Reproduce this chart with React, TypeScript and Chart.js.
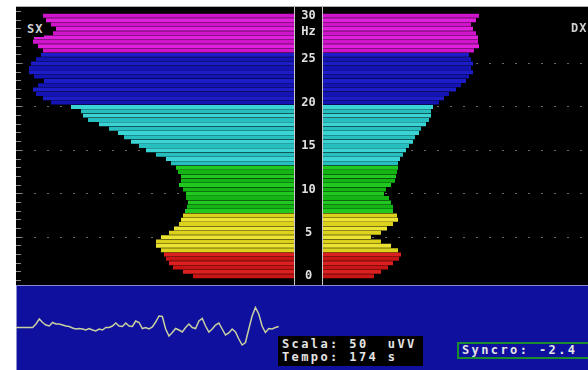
import React, { useEffect, useRef } from 'react';
import { Chart, registerables } from 'chart.js';

Chart.register(...registerables);

// Frequency bins (Hz), bottom to top
const hzBins = [
  0, 0.5, 1, 1.5, 2, 2.5, 3, 3.5, 4, 4.5, 5, 5.5, 6, 6.5, 7, 7.5, 8, 8.5, 9, 9.5,
  10, 10.5, 11, 11.5, 12, 12.5, 13, 13.5, 14, 14.5, 15, 15.5, 16, 16.5, 17, 17.5, 18, 18.5, 19, 19.5,
  20, 20.5, 21, 21.5, 22, 22.5, 23, 23.5, 24, 24.5, 25, 25.5, 26, 26.5, 27, 27.5, 28, 28.5, 29, 29.5, 30,
];

// Left hemisphere (SX) spectral power per bin
const powerSX = [
  101, 111, 121, 125, 128, 130, 133, 138, 138, 133, 125, 120, 115, 113, 111, 109, 107, 106, 108, 108,
  111, 115, 113, 113, 116, 118, 123, 128, 138, 148, 155, 163, 170, 176, 185, 195, 206, 211, 213, 223,
  243, 251, 258, 261, 256, 250, 260, 265, 265, 263, 258, 253, 251, 256, 261, 260, 241, 238, 243, 248, 251,
];

// Right hemisphere (DX) spectral power per bin
const powerDX = [
  51, 58, 65, 70, 76, 78, 75, 68, 58, 48, 58, 64, 70, 75, 74, 70, 70, 68, 66, 61,
  63, 68, 72, 73, 74, 75, 75, 77, 80, 83, 86, 90, 92, 96, 98, 103, 106, 108, 108, 110,
  116, 121, 126, 133, 138, 143, 146, 150, 148, 150, 148, 146, 151, 156, 155, 155, 153, 150, 148, 153, 156,
];

// Frequency bands: upper limit (Hz) and colour
const bandUpper = [2.5, 7, 12.5, 19.5, 25.5, 30];
const bandColors = ['#c81414', '#dcd21e', '#14b414', '#26bebe', '#1414b4', '#d014cc'];
const bandColorsAlt = ['#dc2020', '#ece432', '#20c820', '#3ad4d4', '#1c1cc8', '#e020dc'];

const hzTickLabels = ['0', '5', '10', '15', '20', '25', '30'];
const unitLabel = 'Hz';

// EEG trace samples (uV)
const eegTrace = [
  0, 0, 0, 0, 0, 0, 7, 17, 10, 5, 3, 10, 7, 7, 5, 3, 2, -1, -3, -2,
  -3, -5, -2, -5, -7, -3, -5, 0, 0, 3, 9, 3, 2, 9, 3, 2, 13, 10, -2, 0,
  -3, 1, 11, 23, 22, -3, -17, -10, -2, -5, -9, 0, 7, 0, -2, 13, 18, 3, -9, -3,
  5, 9, -3, -15, -11, -3, -9, -23, -35, -30, -3, 23, 40, 27, 3, -10, -2, -3, 0, 2,
];

const HALF_GAP = 14.5;

function colorFor(hz: number, i: number) {
  for (let b = 0; b < bandUpper.length; b++) {
    if (hz <= bandUpper[b]) return i % 2 === 0 ? bandColors[b] : bandColorsAlt[b];
  }
  return bandColors[bandColors.length - 1];
}

const monoFont = '"DejaVu Sans Mono", monospace';

export default function App() {
  const topRef = useRef<HTMLCanvasElement>(null);
  const botRef = useRef<HTMLCanvasElement>(null);

  useEffect(() => {
    const bgPlugin = {
      id: 'blackBg',
      beforeDraw(chart: any) {
        const { ctx, chartArea } = chart;
        const ys = chart.scales.y;
        ctx.save();
        ctx.fillStyle = '#000';
        ctx.fillRect(ys.left, chartArea.top, chartArea.right - ys.left, chartArea.bottom - chartArea.top);
        ctx.strokeStyle = '#b0b0b0';
        ctx.lineWidth = 1;
        ctx.beginPath();
        ctx.moveTo(ys.left, chartArea.top - 0.5);
        ctx.lineTo(chartArea.right, chartArea.top - 0.5);
        ctx.stroke();
        ctx.restore();
      },
    };

    const bandPlugin = {
      id: 'centerBand',
      afterDatasetsDraw(chart: any) {
        const { ctx, chartArea } = chart;
        const xs = chart.scales.x;
        const ys = chart.scales.y;
        const l = Math.round(xs.getPixelForValue(-HALF_GAP));
        const r = Math.round(xs.getPixelForValue(HALF_GAP));
        ctx.save();
        ctx.fillStyle = '#000';
        ctx.fillRect(l, chartArea.top, r - l, chartArea.bottom - chartArea.top);
        ctx.strokeStyle = '#c8c8c8';
        ctx.lineWidth = 1;
        ctx.beginPath();
        ctx.moveTo(l + 0.5, chartArea.top);
        ctx.lineTo(l + 0.5, chartArea.bottom);
        ctx.moveTo(r - 0.5, chartArea.top);
        ctx.lineTo(r - 0.5, chartArea.bottom);
        ctx.stroke();
        const cx = (l + r) / 2;
        ctx.fillStyle = '#e0e0e0';
        ctx.font = 'bold 12px ' + monoFont;
        ctx.textAlign = 'center';
        ctx.textBaseline = 'middle';
        hzTickLabels.forEach((lab) => {
          ctx.fillText(lab, cx, ys.getPixelForValue(Number(lab)));
        });
        ctx.fillText(unitLabel, cx, ys.getPixelForValue(30) + 16);
        ctx.restore();
      },
    };

    const top = new Chart(topRef.current as HTMLCanvasElement, {
      type: 'bar',
      data: {
        datasets: [
          {
            label: 'SX',
            data: hzBins.map((hz, i) => ({ y: hz, x: [-(HALF_GAP + powerSX[i]), -HALF_GAP] })) as any,
            backgroundColor: hzBins.map((hz, i) => colorFor(hz, i)),
            borderWidth: 0,
            grouped: false,
            barPercentage: 0.92,
            categoryPercentage: 1,
          } as any,
          {
            label: 'DX',
            data: hzBins.map((hz, i) => ({ y: hz, x: [HALF_GAP, HALF_GAP + powerDX[i]] })) as any,
            backgroundColor: hzBins.map((hz, i) => colorFor(hz, i)),
            borderWidth: 0,
            grouped: false,
            barPercentage: 0.92,
            categoryPercentage: 1,
          } as any,
        ],
      },
      options: {
        indexAxis: 'y',
        animation: false,
        responsive: false,
        devicePixelRatio: 1,
        layout: { padding: { left: 16, top: 7, right: 0, bottom: 0 } },
        plugins: { legend: { display: false }, tooltip: { enabled: false } },
        scales: {
          x: { type: 'linear', min: -287.5, max: 279.5, display: false },
          y: {
            type: 'linear',
            min: -0.5,
            max: 30.5,
            position: 'left',
            afterBuildTicks: (scale: any) => {
              scale.ticks = hzBins.filter((v) => Number.isInteger(v)).map((v) => ({ value: v }));
            },
            ticks: { display: false },
            grid: {
              drawOnChartArea: true,
              drawTicks: true,
              tickLength: 5,
              lineWidth: 1,
              color: (c: any) => (c.tick && c.tick.value % 5 === 0 && c.tick.value > 0 && c.tick.value < 30 ? '#6a6a6a' : 'rgba(0,0,0,0)'),
              tickColor: '#8a8a8a',
              tickBorderDash: [],
            },
            border: { display: false, dash: [2, 11] },
          },
        },
      } as any,
      plugins: [bgPlugin, bandPlugin],
    });

    const blueBg = {
      id: 'blueBg',
      beforeDraw(chart: any) {
        const { ctx, chartArea, height } = chart;
        ctx.save();
        ctx.fillStyle = '#10109e';
        ctx.fillRect(chartArea.left, 0, chartArea.right - chartArea.left, height);
        ctx.strokeStyle = '#8c8cd0';
        ctx.lineWidth = 1;
        ctx.beginPath();
        ctx.moveTo(chartArea.left, 0.5);
        ctx.lineTo(chartArea.right, 0.5);
        ctx.moveTo(chartArea.left + 0.5, 0);
        ctx.lineTo(chartArea.left + 0.5, height);
        ctx.stroke();
        ctx.restore();
      },
    };

    const bot = new Chart(botRef.current as HTMLCanvasElement, {
      type: 'line',
      data: {
        datasets: [
          {
            label: 'EEG',
            data: eegTrace.map((v, i) => ({ x: i, y: v })),
            borderColor: '#c8d0a0',
            borderWidth: 1.5,
            pointRadius: 0,
            tension: 0,
          },
        ],
      },
      options: {
        animation: false,
        responsive: false,
        devicePixelRatio: 1,
        layout: { padding: { left: 16, right: 0, top: 0, bottom: 0 } },
        plugins: { legend: { display: false }, tooltip: { enabled: false } },
        scales: {
          x: { type: 'linear', min: 0, max: 172, display: false },
          y: { type: 'linear', min: -85, max: 85, display: false },
        },
      } as any,
      plugins: [blueBg],
    });

    return () => {
      top.destroy();
      bot.destroy();
    };
  }, []);

  const textStyle: React.CSSProperties = {
    fontFamily: monoFont,
    fontWeight: 'bold',
    fontSize: 12,
    letterSpacing: '2.4px',
    color: '#e4e4e4',
    whiteSpace: 'pre',
    lineHeight: '13px',
  };

  return (
    <div style={{ position: 'fixed', left: 0, top: 0, width: 588, height: 370, background: '#fff', overflow: 'hidden' }}>
      <canvas ref={topRef} width={588} height={285} style={{ position: 'absolute', left: 0, top: 0 }} />
      <canvas ref={botRef} width={588} height={85} style={{ position: 'absolute', left: 0, top: 285 }} />
      <div style={{ position: 'absolute', left: 26, top: 22, background: '#000', padding: '1px 1px', fontFamily: monoFont, fontWeight: 'bold', fontSize: 12, letterSpacing: '1px', color: '#d0d0d0', lineHeight: '13px' }}>SX</div>
      <div style={{ position: 'absolute', left: 571, top: 22, fontFamily: monoFont, fontWeight: 'bold', fontSize: 12, letterSpacing: '1px', color: '#d0d0d0', lineHeight: '13px', whiteSpace: 'pre' }}>DX</div>
      <div style={{ position: 'absolute', left: 278, top: 336, width: 145, height: 30, background: '#000', boxSizing: 'border-box', padding: '2px 0 0 4px' }}>
        <div style={textStyle}>{'Scala: 50  uVV'}</div>
        <div style={textStyle}>{'Tempo: 174 s'}</div>
      </div>
      <div style={{ position: 'absolute', left: 457, top: 342, width: 140, height: 17, boxSizing: 'border-box', border: '2px solid #1a8c30', background: '#10109e', padding: '0 0 0 3px' }}>
        <div style={textStyle}>{'Syncro: -2.4'}</div>
      </div>
    </div>
  );
}
